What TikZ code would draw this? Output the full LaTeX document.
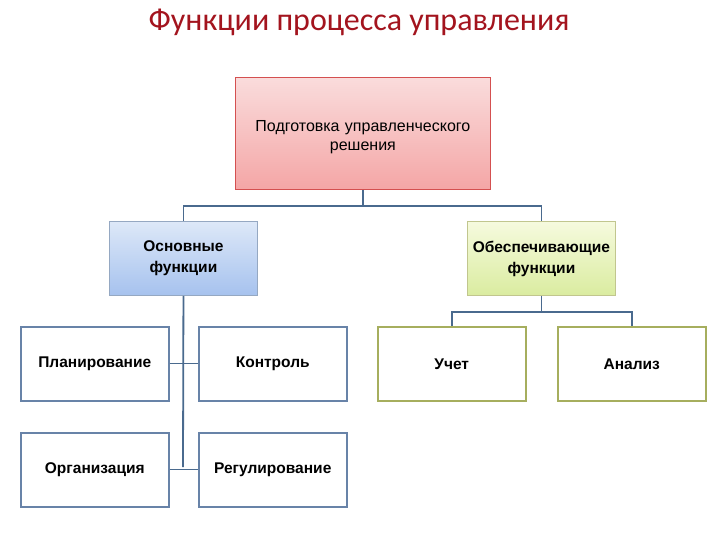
\documentclass[tikz,border=0pt]{standalone}
\usepackage{fontspec}
\setmainfont{Liberation Sans}
\newfontfamily\titlefont{Carlito}
\definecolor{titlered}{HTML}{A3141E}
\definecolor{linkblue}{HTML}{4A6A8E}
\definecolor{boxblue}{HTML}{6883A8}
\definecolor{boxgreen}{HTML}{A6AE5E}
\definecolor{redborder}{HTML}{D45050}
\definecolor{pinktop}{HTML}{FADCDC}
\definecolor{pinkbot}{HTML}{F4A6A6}
\definecolor{bluetop}{HTML}{DDE8F8}
\definecolor{bluebot}{HTML}{A6C2EE}
\definecolor{greentop}{HTML}{F6FADE}
\definecolor{greenbot}{HTML}{DAECA0}
\begin{document}
\begin{tikzpicture}[x=1pt,y=-1pt,
  base/.style={draw,line width=1.5pt,minimum width=148pt,minimum height=74pt,anchor=north west,inner sep=0pt,align=center,text width=146pt,font=\bfseries\fontsize{15.5}{21}\selectfont},
  topbox/.style={base,draw=redborder,line width=0.8pt,minimum width=255pt,minimum height=112pt,text width=250pt,top color=pinktop,bottom color=pinkbot,font=\fontsize{16}{19}\selectfont},
  bluebox/.style={base,draw=boxblue!70!white,line width=0.9pt,top color=bluetop,bottom color=bluebot},
  greenbox/.style={base,draw=boxgreen!70!white,line width=0.9pt,top color=greentop,bottom color=greenbot},
  leafb/.style={base,draw=boxblue},
  leafg/.style={base,draw=boxgreen},
  link/.style={draw=linkblue,line width=1.8pt},
  stub/.style={draw=linkblue,line width=0.7pt}]
\useasboundingbox (0,0) rectangle (720,540);
\node[font=\titlefont\fontsize{32}{36}\selectfont,text=titlered] (title) at (359,22) {Функции процесса управления};
\node[topbox] (top) at (235,77) {\raisebox{-4pt}[\height][\depth]{\parbox{250pt}{\centering Подготовка управленческого\\решения}}};
\node[bluebox] (osn) at (109,221) {Основные\\функции};
\node[greenbox] (obe) at (467,221) {Обеспечивающие\\функции};
\node[leafb] (plan) at (20,326) {Планирование};
\node[leafb] (kont) at (198,326) {Контроль};
\node[leafb] (org) at (20,432) {Организация};
\node[leafb] (reg) at (198,432) {Регулирование};
\node[leafg] (uch) at (377,326) {Учет};
\node[leafg] (anal) at (557,326) {Анализ};
\coordinate (spine) at (183,467);
\draw[link] (top.south) -- ++(0,16) -| (osn.north);
\draw[link] (top.south) ++(0,16) -| (obe.north);
\draw[link] (osn.south) -- (spine);
\draw[stub] (plan.east) -- (kont.west);
\draw[stub] (org.east) -- (reg.west);
\draw[link] (obe.south) -- ++(0,16) -| (uch.north);
\draw[link] (obe.south) ++(0,16) -| (anal.north);
\end{tikzpicture}
\end{document}
